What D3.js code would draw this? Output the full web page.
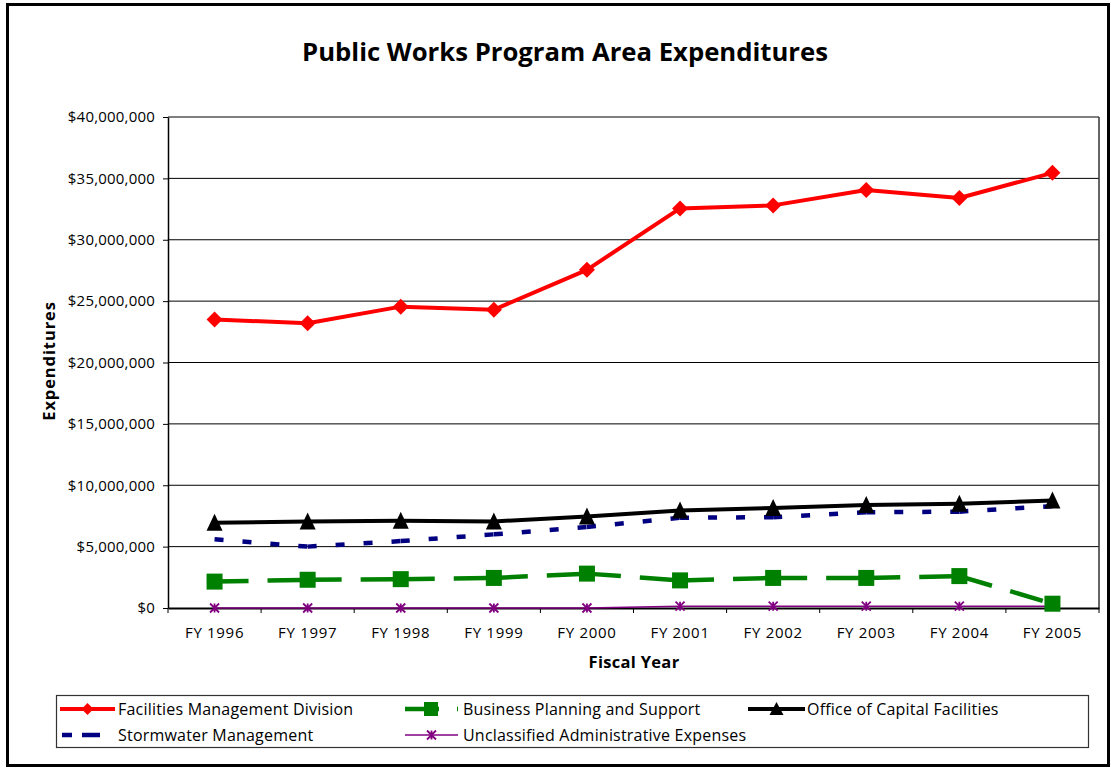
<!DOCTYPE html>
<html>
<head>
<meta charset="utf-8">
<script src="https://cdn.jsdelivr.net/npm/d3@7"></script>
<style>
  html, body { margin: 0; padding: 0; background: #fff; }
  svg { display: block; }
  text { font-family: "Open Sans", "DejaVu Sans", sans-serif; fill: #000; }
</style>
</head>
<body>
<svg id="chart" width="1111" height="768"></svg>
<script>
// ---- data ----
const categories = ["FY 1996","FY 1997","FY 1998","FY 1999","FY 2000","FY 2001","FY 2002","FY 2003","FY 2004","FY 2005"];
const facilitiesManagement = [23500000, 23200000, 24550000, 24300000, 27550000, 32550000, 32800000, 34050000, 33400000, 35450000];
const businessPlanning    = [2150000, 2300000, 2350000, 2450000, 2800000, 2250000, 2450000, 2450000, 2600000, 350000];
const capitalFacilities   = [6950000, 7050000, 7100000, 7050000, 7450000, 7950000, 8150000, 8400000, 8500000, 8750000];
const stormwater          = [5600000, 5000000, 5450000, 6000000, 6600000, 7350000, 7400000, 7800000, 7850000, 8300000];
const unclassified        = [0, 0, 0, 0, 0, 150000, 150000, 150000, 150000, 150000];
const yTicks = [0, 5000000, 10000000, 15000000, 20000000, 25000000, 30000000, 35000000, 40000000];
const titleText = "Public Works Program Area Expenditures";
const xTitle = "Fiscal Year";
const yTitle = "Expenditures";

const series = [
  {name: "Facilities Management Division", values: facilitiesManagement, color: "#FF0000", width: 4, dash: null, marker: "diamond"},
  {name: "Business Planning and Support", values: businessPlanning, color: "#008000", width: 4.5, dash: "34,19", marker: "square"},
  {name: "Office of Capital Facilities", values: capitalFacilities, color: "#000000", width: 4, dash: null, marker: "triangle"},
  {name: "Stormwater Management", values: stormwater, color: "#000080", width: 4.5, dash: "9,19", marker: null},
  {name: "Unclassified Administrative Expenses", values: unclassified, color: "#800080", width: 1.5, dash: null, marker: "star"}
];

// ---- layout ----
const svg = d3.select("#chart");
const plot = {left: 168, right: 1099, top: 117, bottom: 608};

// outer frame
svg.append("rect").attr("x", 7.5).attr("y", 4.5).attr("width", 1101).attr("height", 761)
  .attr("fill", "#fff").attr("stroke", "#000").attr("stroke-width", 3);

const x = d3.scaleBand().domain(categories).range([plot.left, plot.right]);
const cx = c => x(c) + x.bandwidth() / 2;
const y = d3.scaleLinear().domain([0, 40000000]).range([plot.bottom, plot.top]);

// title
svg.append("text").attr("x", 565).attr("y", 61).attr("text-anchor", "middle")
  .attr("font-size", 25.7).attr("font-weight", "bold").text(titleText);

// gridlines
svg.append("g").selectAll("line").data(yTicks.filter(d => d > 0)).join("line")
  .attr("x1", plot.left).attr("x2", plot.right)
  .attr("y1", d => y(d)).attr("y2", d => y(d))
  .attr("stroke", "#000").attr("stroke-width", 1);

// plot border (right)
svg.append("line").attr("x1", plot.right).attr("x2", plot.right).attr("y1", plot.top).attr("y2", plot.bottom)
  .attr("stroke", "#333").attr("stroke-width", 1.5);

// y axis
const yAxis = svg.append("g").attr("transform", `translate(${plot.left},0)`)
  .call(d3.axisLeft(y).tickValues(yTicks).tickFormat(d3.format("$,.0f")).tickSizeInner(5).tickSizeOuter(0).tickPadding(8));
yAxis.select(".domain").attr("stroke", "#000").attr("stroke-width", 1.5);
yAxis.selectAll("text").attr("font-size", 15).attr("letter-spacing", 0.2).attr("font-family", "Open Sans, sans-serif");

// x axis
const xAxis = svg.append("g").attr("transform", `translate(0,${plot.bottom})`)
  .call(d3.axisBottom(x).tickSizeInner(0).tickSizeOuter(0).tickPadding(19));
xAxis.select(".domain").attr("stroke", "#000").attr("stroke-width", 2);
xAxis.selectAll("text").attr("font-size", 15).attr("letter-spacing", 0.7).attr("font-family", "Open Sans, sans-serif");
const bounds = categories.map(c => x(c)).concat([x.range()[1]]);
svg.append("g").selectAll("line").data(bounds).join("line")
  .attr("x1", d => d).attr("x2", d => d).attr("y1", plot.bottom).attr("y2", plot.bottom + 5)
  .attr("stroke", "#000").attr("stroke-width", 1);

// axis titles
svg.append("text").attr("x", 634).attr("y", 668).attr("text-anchor", "middle")
  .attr("font-size", 16.5).attr("letter-spacing", 0.3).attr("font-weight", "bold").text(xTitle);
svg.append("text").attr("transform", "translate(55,361) rotate(-90)").attr("text-anchor", "middle")
  .attr("font-size", 16.5).attr("letter-spacing", 0.9).attr("font-weight", "bold").text(yTitle);

// markers
function drawMarker(g, type, px, py, color) {
  if (type === "diamond") {
    g.append("path").attr("d", `M${px},${py-8}L${px+8},${py}L${px},${py+8}L${px-8},${py}Z`).attr("fill", color);
  } else if (type === "square") {
    g.append("rect").attr("x", px-8).attr("y", py-8).attr("width", 16).attr("height", 16).attr("fill", color);
  } else if (type === "triangle") {
    g.append("path").attr("d", `M${px},${py-9}L${px+8},${py+8}L${px-8},${py+8}Z`).attr("fill", color);
  } else if (type === "star") {
    const s = 4.5;
    g.append("path").attr("d", `M${px},${py-s}L${px},${py+s}M${px-s},${py-s}L${px+s},${py+s}M${px+s},${py-s}L${px-s},${py+s}`)
      .attr("stroke", color).attr("stroke-width", 1.8).attr("fill", "none");
  }
}

// series lines
const drawOrder = [4, 1, 3, 2, 0];
drawOrder.forEach(i => {
  const s = series[i];
  const g = svg.append("g");
  const pts = s.values.map((v, k) => [cx(categories[k]), y(v)]);
  if (s.dash) {
    for (let k = 0; k < pts.length - 1; k++) {
      g.append("line").attr("x1", pts[k][0]).attr("y1", pts[k][1]).attr("x2", pts[k+1][0]).attr("y2", pts[k+1][1])
        .attr("stroke", s.color).attr("stroke-width", s.width).attr("stroke-dasharray", s.dash);
    }
  } else {
    g.append("path").attr("d", d3.line()(pts)).attr("fill", "none")
      .attr("stroke", s.color).attr("stroke-width", s.width).attr("stroke-linejoin", "round");
  }
  if (s.marker) pts.forEach(p => drawMarker(g, s.marker, p[0], p[1], s.color));
});

// legend
const lg = svg.append("g");
lg.append("rect").attr("x", 56.5).attr("y", 695.5).attr("width", 1032).attr("height", 52)
  .attr("fill", "#fff").attr("stroke", "#333").attr("stroke-width", 1.2);
const legendItems = [
  {s: series[0], x0: 60, x1: 115, tx: 118, ty: 709},
  {s: series[1], x0: 405, x1: 458, tx: 463, ty: 709},
  {s: series[2], x0: 748, x1: 805, tx: 807, ty: 709},
  {s: series[3], x0: 62, x1: 100, tx: 118, ty: 735},
  {s: series[4], x0: 405, x1: 458, tx: 463, ty: 735}
];
legendItems.forEach(it => {
  const s = it.s;
  let dash = s.dash;
  if (s === series[1]) dash = "34,18,1";
  if (s === series[3]) dash = "10,10,18";
  lg.append("line").attr("x1", it.x0).attr("x2", it.x1).attr("y1", it.ty).attr("y2", it.ty)
    .attr("stroke", s.color).attr("stroke-width", s.width).attr("stroke-dasharray", dash);
  if (s.marker) {
    const mx = s === series[1] ? 431 : (it.x0 + it.x1) / 2;
    const mg = lg.append("g");
    if (s.marker === "square") {
      mg.append("rect").attr("x", mx-7).attr("y", it.ty-7).attr("width", 14).attr("height", 14).attr("fill", s.color);
    } else if (s.marker === "diamond") {
      mg.append("path").attr("d", `M${mx},${it.ty-6}L${mx+6},${it.ty}L${mx},${it.ty+6}L${mx-6},${it.ty}Z`).attr("fill", s.color);
    } else if (s.marker === "triangle") {
      mg.append("path").attr("d", `M${mx},${it.ty-7}L${mx+7},${it.ty+6}L${mx-7},${it.ty+6}Z`).attr("fill", s.color);
    } else {
      drawMarker(mg, s.marker, mx, it.ty, s.color);
    }
  }
  lg.append("text").attr("x", it.tx).attr("y", it.ty).attr("dy", "0.35em")
    .attr("font-size", 16).attr("letter-spacing", 0.2).text(s.name);
});
</script>
</body>
</html>
